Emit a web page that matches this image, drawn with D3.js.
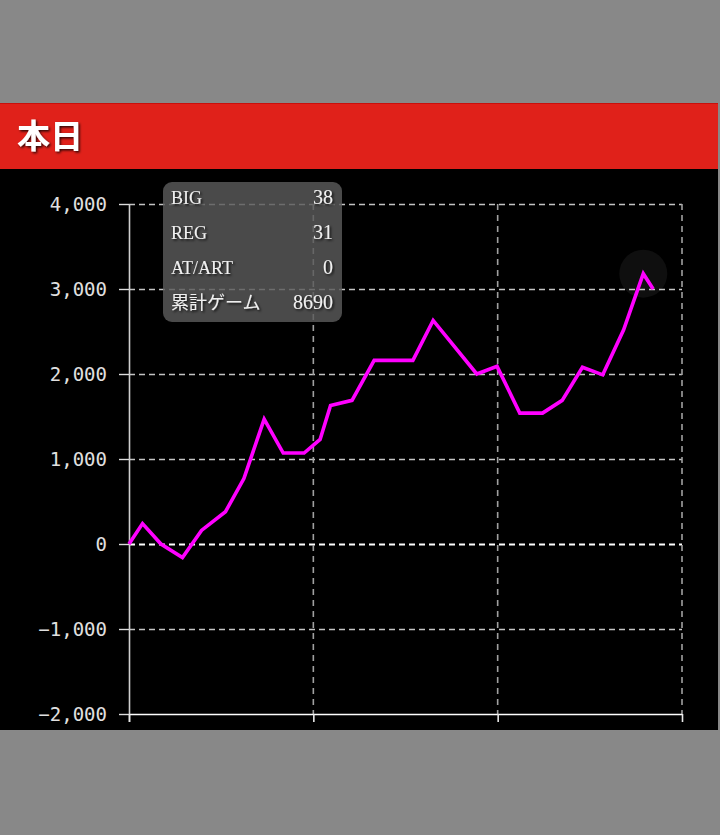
<!DOCTYPE html>
<html><head><meta charset="utf-8">
<script src="https://cdn.jsdelivr.net/npm/d3@7"></script>
<style>
html,body{margin:0;padding:0;background:#888888;}
svg{display:block;}
</style></head>
<body>
<svg id="c" width="720" height="835"></svg>
<script>
// Data (x = cumulative games, y = difference in medals)
const games = [0,220,520,870,1180,1570,1870,2200,2510,2850,3110,3280,3630,3990,4620,4950,5660,5990,6360,6730,7050,7380,7710,8050,8370,8530];
const values = [0,240,0,-160,160,380,770,1470,1070,1070,1230,1630,1690,2160,2160,2630,2000,2090,1540,1540,1690,2080,1990,2520,3180,3000];
const yTicks = [4000,3000,2000,1000,0,-1000,-2000];
const xTicks = [0,3000,6000,9000];
const title = "本日";
const infoLabels = ["BIG","REG","AT/ART","累計ゲーム"];
const infoValues = ["38","31","0","8690"];
const hoverIndex = 24;

const svg = d3.select("#c");
svg.append("rect").attr("x",0).attr("y",0).attr("width",720).attr("height",835).attr("fill","#888888");
// panel
svg.append("rect").attr("x",0).attr("y",169).attr("width",718).attr("height",561).attr("fill","#000");
// header
svg.append("rect").attr("x",0).attr("y",103).attr("width",718).attr("height",66).attr("fill","#e0211a");
svg.append("line").attr("x1",0).attr("x2",718).attr("y1",103.5).attr("y2",103.5).attr("stroke","#c8100c").attr("stroke-width",1);
const defs = svg.append("defs");
const f = defs.append("filter").attr("id","sh").attr("x","-20%").attr("y","-20%").attr("width","140%").attr("height","140%");
f.append("feDropShadow").attr("dx",1.5).attr("dy",1.5).attr("stdDeviation",0.8).attr("flood-color","#000").attr("flood-opacity",0.8);
svg.append("text").attr("x",17).attr("y",148).text(title)
  .attr("fill","#fff").attr("font-family","'Noto Sans CJK JP', sans-serif").attr("font-weight","bold")
  .attr("font-size",33).attr("filter","url(#sh)");

const x = d3.scaleLinear().domain([0,9000]).range([129,682]);
const y = d3.scaleLinear().domain([-2000,4000]).range([714,204]);

// horizontal grid
svg.append("g").selectAll("line").data(yTicks.filter(d=>d!==-2000)).join("line")
  .attr("x1",x(0)).attr("x2",x(9000)).attr("y1",d=>y(d)+0.5).attr("y2",d=>y(d)+0.5)
  .attr("stroke",d=>d===0?"#ffffff":"#c4c4c4").attr("stroke-width",d=>d===0?1.8:1.5).attr("stroke-dasharray","6,4");
// vertical grid
svg.append("g").selectAll("line").data(xTicks.filter(d=>d!==0)).join("line")
  .attr("x1",d=>x(d)).attr("x2",d=>x(d)).attr("y1",y(4000)).attr("y2",y(-2000))
  .attr("stroke","#a0a0a0").attr("stroke-width",1.6).attr("stroke-dasharray","6,5");

// y axis
const yAxis = d3.axisLeft(y).tickValues(yTicks).tickSize(10).tickPadding(12).tickFormat(d3.format(","));
const gy = svg.append("g").attr("transform","translate(129,0)").call(yAxis);
gy.select(".domain").attr("stroke","#cfcfcf").attr("stroke-width",1.6).attr("d","M0.5,204V722");
gy.selectAll(".tick line").attr("stroke","#dcdcdc").attr("stroke-width",1.4);
gy.selectAll("text").attr("fill","#e0e0e0").attr("font-family","'DejaVu Sans Mono', monospace").attr("font-size",19);

// x axis
const xAxis = d3.axisBottom(x).tickValues(xTicks).tickSize(8).tickFormat("");
const gx = svg.append("g").attr("transform","translate(0,714)").call(xAxis);
gx.select(".domain").attr("stroke","#ffffff").attr("stroke-width",1.6).attr("d","M129,0.5H682");
gx.selectAll(".tick line").attr("stroke","#e8e8e8").attr("stroke-width",1.6);

// hover halo
svg.append("circle").attr("cx",x(games[hoverIndex])).attr("cy",y(values[hoverIndex])).attr("r",24)
  .attr("fill","rgba(255,255,255,0.06)");

// line
const line = d3.line().x((d,i)=>x(games[i])).y(d=>y(d));
svg.append("path").datum(values).attr("d",line).attr("fill","none")
  .attr("stroke","#ff00ff").attr("stroke-width",3.6).attr("stroke-linejoin","miter");

// tooltip
const tg = svg.append("g");
tg.append("rect").attr("x",163).attr("y",182).attr("width",179).attr("height",140).attr("rx",9)
  .attr("fill","rgba(90,90,90,0.82)");
infoLabels.forEach((l,i)=>{
  const by = 204 + i*35;
  tg.append("text").attr("x",171).attr("y",by).text(l)
    .attr("fill","#f0f0f0").attr("font-family","'Liberation Serif', 'Noto Sans CJK JP', serif").attr("font-size",18)
    .attr("filter","url(#sh)");
  tg.append("text").attr("x",333).attr("y",by).text(infoValues[i]).attr("text-anchor","end")
    .attr("fill","#f0f0f0").attr("font-family","'Liberation Serif', serif").attr("font-size",20)
    .attr("filter","url(#sh)");
});
</script>
</body></html>
